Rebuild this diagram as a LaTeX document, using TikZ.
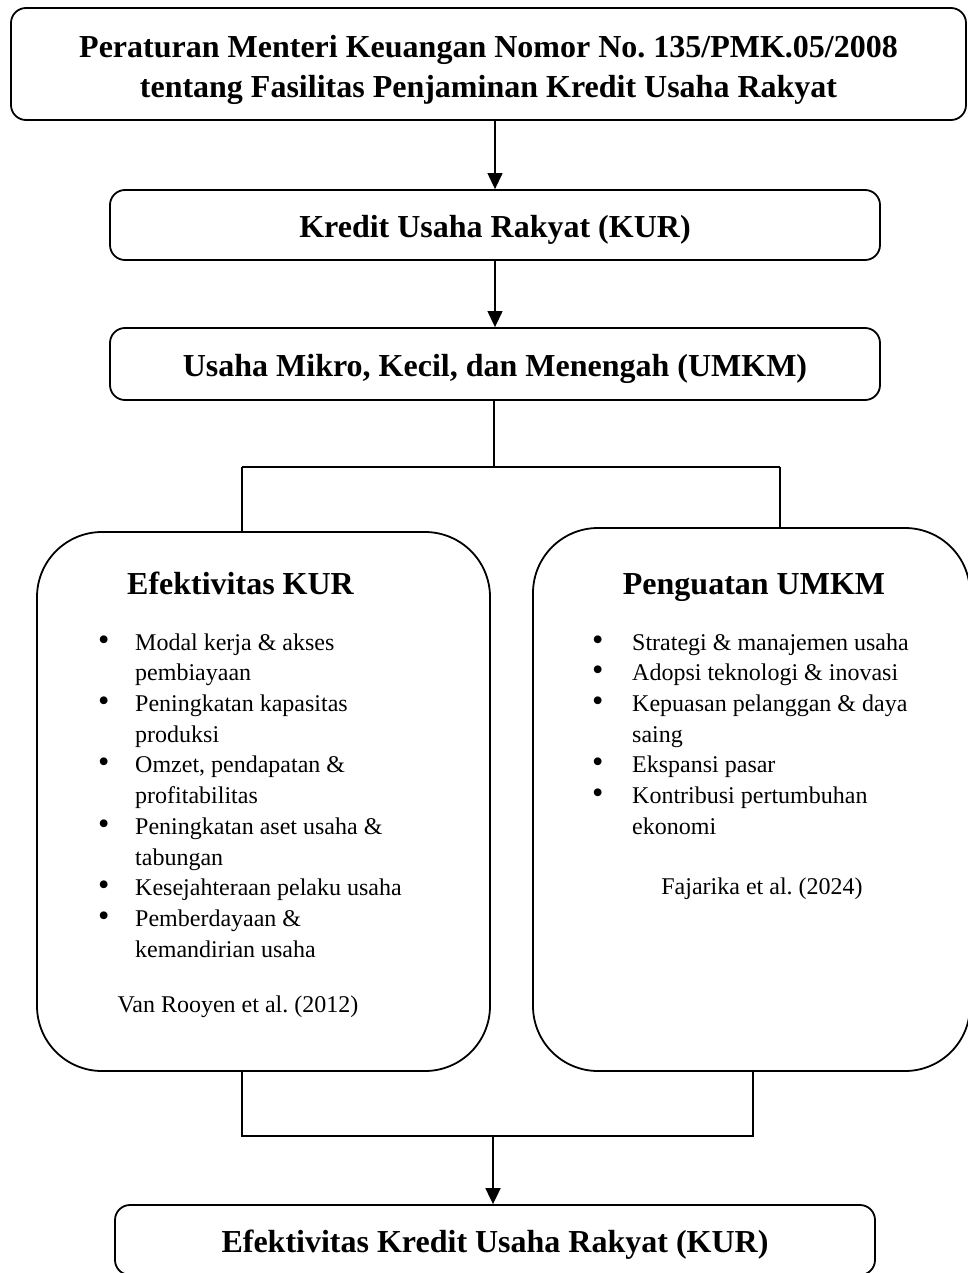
\documentclass[tikz,border=0pt]{standalone}
\usepackage{fontspec}
\setmainfont{Liberation Serif}
\usepackage{tikz}
\usetikzlibrary{arrows.meta}
\tikzset{
	boxline/.style={draw, line width=1.8pt, inner sep=0pt},
	flatbox/.style={boxline, rounded corners=15pt, align=center, text height=31pt, text depth=6pt, font=\fontsize{32}{40}\selectfont\bfseries},
	bigbox/.style={boxline, rounded corners=65pt},
	headtext/.style={inner sep=0pt, anchor=base, font=\fontsize{32}{40}\selectfont\bfseries},
	listtext/.style={inner sep=0pt, anchor=north west, align=left, font=\fontsize{24}{30.7}\selectfont},
	reftext/.style={inner sep=0pt, anchor=base, font=\fontsize{24}{30.7}\selectfont},
	link/.style={line width=1.2pt},
	flow/.style={line width=1.2pt, -{Triangle[length=16pt,width=15pt]}}
}
\newcommand{\blt}{\scalebox{1.35}{\textbullet}}
\frenchspacing

\begin{document}
\begin{tikzpicture}[x=1pt, y=-1pt]
		%%%%% START %%%%%
		\useasboundingbox (0, 0) rectangle (968, 1273);
		\clip (0, 0) rectangle (968, 1273);
		
		\node[flatbox, text height=70pt, text depth=3pt, minimum width=955pt, minimum height=112pt] (pmk) at (488.5, 64) {Peraturan Menteri Keuangan Nomor No. 135/PMK.05/2008\\tentang Fasilitas Penjaminan Kredit Usaha Rakyat};
		\node[flatbox, minimum width=770pt, minimum height=70pt] (kur) at (495, 225) {Kredit Usaha Rakyat (KUR)};
		\node[flatbox, minimum width=770pt, minimum height=72pt] (umkm) at (495, 364) {Usaha Mikro, Kecil, dan Menengah (UMKM)};
		
		\node[bigbox, minimum width=453pt, minimum height=539pt] (efek) at (263.5, 801.5) {};
		\node[bigbox, minimum width=437pt, minimum height=543pt] (kuat) at (751.5, 799.5) {};
		
		\node[flatbox, minimum width=760pt, minimum height=70pt] (hasil) at (495, 1240) {Efektivitas Kredit Usaha Rakyat (KUR)};
		
		% isi kotak kiri
		\node[headtext] (efekhead) at (240.5, 594) {Efektivitas KUR};
		\node[listtext] (efeklist) at (98, 628.5) {%
			\begin{tabular}{@{}p{37pt}@{}l@{}}
				\blt & Modal kerja \& akses\\
				& pembiayaan\\
				\blt & Peningkatan kapasitas\\
				& produksi\\
				\blt & Omzet, pendapatan \&\\
				& profitabilitas\\
				\blt & Peningkatan aset usaha \&\\
				& tabungan\\
				\blt & Kesejahteraan pelaku usaha\\
				\blt & Pemberdayaan \&\\
				& kemandirian usaha
			\end{tabular}};
		\node[reftext] (efekref) at (238, 1012) {Van Rooyen et al. (2012)};
		
		% isi kotak kanan
		\node[headtext] (kuathead) at (754, 594) {Penguatan UMKM};
		\node[listtext] (kuatlist) at (592, 628.5) {%
			\begin{tabular}{@{}p{40pt}@{}l@{}}
				\blt & Strategi \& manajemen usaha\\
				\blt & Adopsi teknologi \& inovasi\\
				\blt & Kepuasan pelanggan \& daya\\
				& saing\\
				\blt & Ekspansi pasar\\
				\blt & Kontribusi pertumbuhan\\
				& ekonomi
			\end{tabular}};
		\node[reftext] (kuatref) at (762, 894) {Fajarika et al. (2024)};
		
		% garis penghubung
		\coordinate (split) at (494, 467);
		\coordinate (splitl) at (242, 467);
		\coordinate (splitr) at (780, 467);
		\coordinate (joinl) at (242, 1136);
		\coordinate (joinr) at (753, 1136);
		\coordinate (join) at (493, 1136);
		
		\draw[flow] (kur.north |- pmk.south) -- (kur.north);
		\draw[flow] (umkm.north |- kur.south) -- (umkm.north);
		\draw[link] (umkm.south -| split) -- (split);
		\draw[link] (splitl) -- (splitr);
		\draw[link] (splitl) -- (splitl |- efek.north);
		\draw[link] (splitr) -- (splitr |- kuat.north);
		
		\draw[link] (joinl |- efek.south) -- (joinl) -- (joinr) -- (joinr |- kuat.south);
		\draw[flow, line width=1.8pt] (join) -- (join |- hasil.north);
		
		%%%%% END %%%%%
\end{tikzpicture}
\end{document}
